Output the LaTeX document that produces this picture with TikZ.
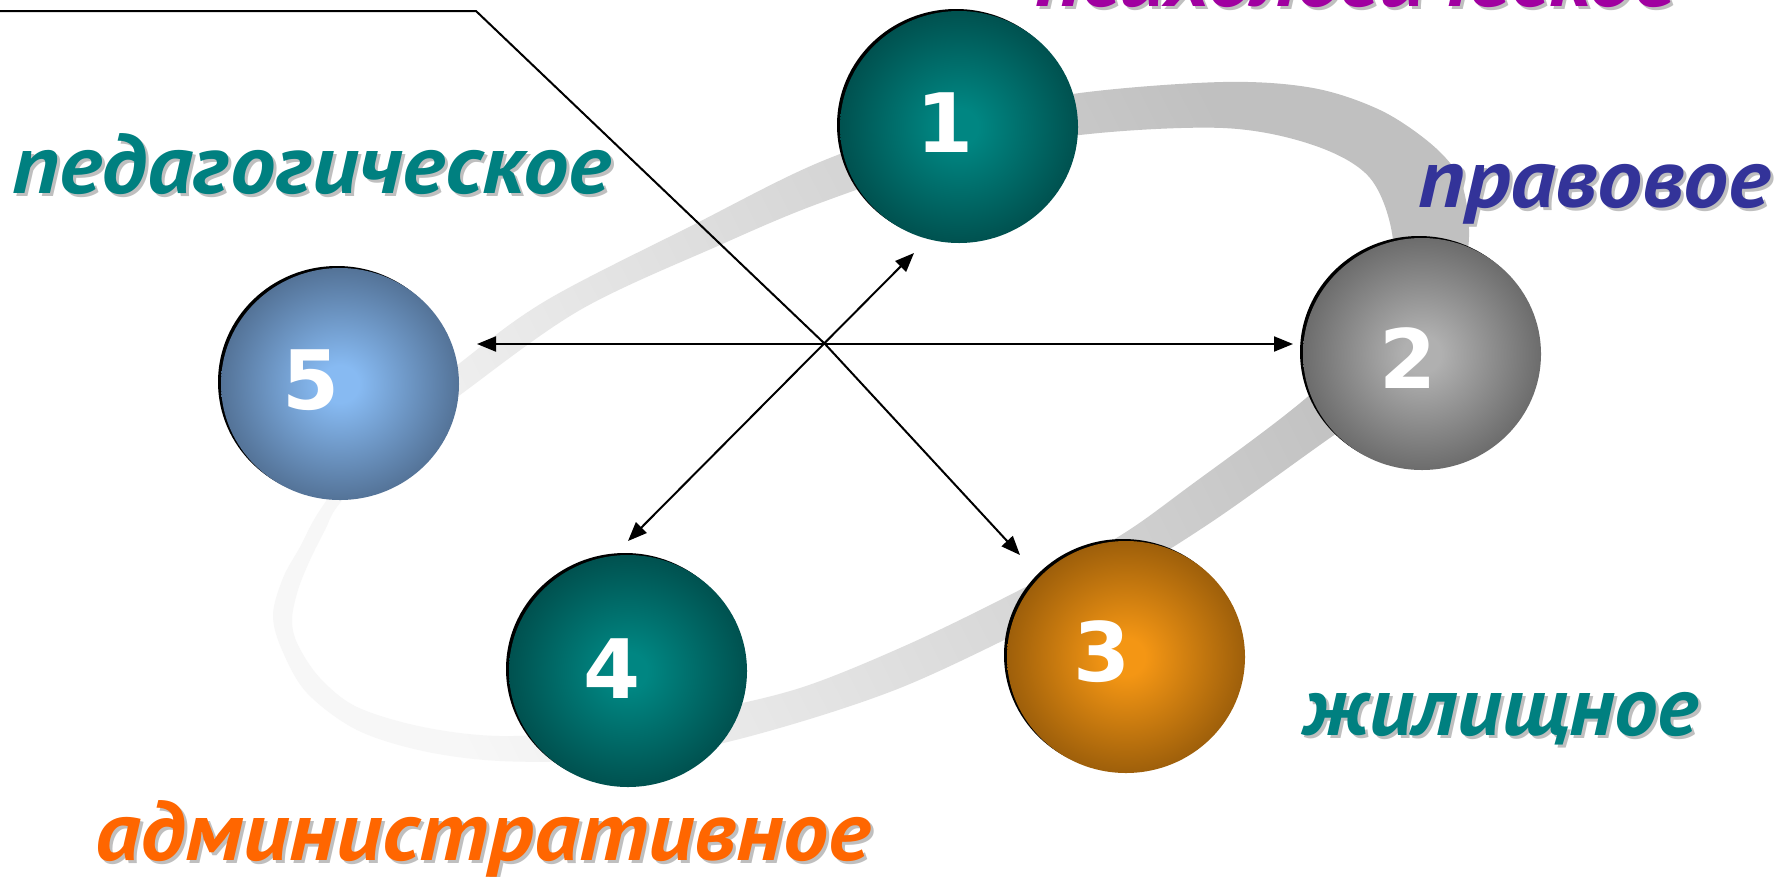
\documentclass[tikz,border=0pt]{standalone}
\usepackage{fontspec}
\usepackage{graphicx}
\usetikzlibrary{arrows.meta,shapes.geometric}
\newfontfamily\lblfont{PT Sans}
\newfontfamily\digfont{DejaVu Sans}

\definecolor{tealin}{RGB}{0,134,130}
\definecolor{tealout}{RGB}{0,36,36}
\definecolor{grayin}{RGB}{176,176,176}
\definecolor{grayout}{RGB}{50,50,50}
\definecolor{bluein}{RGB}{135,186,242}
\definecolor{blueout}{RGB}{40,54,74}
\definecolor{orin}{RGB}{244,150,20}
\definecolor{orout}{RGB}{84,48,2}
\definecolor{bandL}{RGB}{247,247,247}
\definecolor{bandD}{RGB}{192,192,192}
\definecolor{tealtxt}{RGB}{0,128,128}
\definecolor{indigotxt}{RGB}{51,51,153}
\definecolor{purpletxt}{RGB}{160,0,160}
\definecolor{orangetxt}{RGB}{255,102,0}

\pgfdeclareradialshading{tealball}{\pgfpoint{0bp}{0bp}}{color(0bp)=(tealin); color(4bp)=(tealin); color(43bp)=(tealout); color(50bp)=(tealout)}
\pgfdeclareradialshading{grayball}{\pgfpoint{0bp}{0bp}}{color(0bp)=(grayin); color(4bp)=(grayin); color(43bp)=(grayout); color(50bp)=(grayout)}
\pgfdeclareradialshading{blueball}{\pgfpoint{0bp}{0bp}}{color(0bp)=(bluein); color(4bp)=(bluein); color(43bp)=(blueout); color(50bp)=(blueout)}
\pgfdeclareradialshading{orball}{\pgfpoint{0bp}{0bp}}{color(0bp)=(orin); color(4bp)=(orin); color(43bp)=(orout); color(50bp)=(orout)}
\pgfdeclareverticalshading{bandsh}{100bp}{color(0bp)=(bandL); color(25bp)=(bandL); color(72bp)=(bandD); color(100bp)=(bandD)}

\tikzset{
  ballnode/.style={ellipse, minimum width=238pt, minimum height=232pt, inner sep=0pt, shade, shading=#1},
  ballshadow/.style={ellipse, minimum width=238pt, minimum height=232pt, inner sep=0pt, fill=black},
  digit/.style={text=white, font=\digfont\bfseries\fontsize{82}{82}\selectfont, inner sep=0pt},
  conn/.style={line width=2pt, draw=black},
  arr/.style={conn, -{Triangle[length=19pt,width=15pt]}},
  darr/.style={conn, {Triangle[length=19pt,width=15pt]}-{Triangle[length=19pt,width=15pt]}},
  lbltext/.style={anchor=base west, inner sep=0pt, font=\lblfont\bfseries\itshape\fontsize{84}{84}\selectfont},
}

% #1 name, #2 x,y (no parentheses), #3 width, #4 colour, #5 text
\newcommand\shlabel[5]{%
  \node[lbltext, text=black!25] (#1s) at ([xshift=3pt,yshift=-3pt]#2) {\resizebox{#3}{\height}{#5}};
  \node[lbltext, text=#4] (#1) at (#2) {\resizebox{#3}{\height}{#5}};
}

\begin{document}
\begin{tikzpicture}[x=1pt,y=-1pt]
\useasboundingbox (0,0) rectangle (1777,876);
\clip (0,0) rectangle (1777,876);
\fill[white] (0,0) rectangle (1777,876);

% ring band
\shade[shading=bandsh, shading angle=-63, even odd rule]
  plot[smooth cycle, tension=0.55] coordinates {
    (1080,93) (1223,82) (1313,88) (1380,110) (1430,143) (1458,175) (1468,215)
    (1466,260) (1440,340) (1390,400) (1337,433) (1213,521) (1110,585) (1000,642)
    (900,688) (800,722) (700,748) (600,760) (500,761) (423,751) (357,730)
    (307,693) (282,650) (273,615) (283,578) (300,547) (322,507) (380,430)
    (460,363) (547,300) (693,225) (820,162) (950,118)}
  plot[smooth cycle, tension=0.55] coordinates {
    (1080,135) (1223,128) (1313,145) (1370,178) (1393,240) (1385,310) (1313,392)
    (1187,488) (1113,540) (1000,600) (900,648) (800,688) (700,712) (600,730)
    (500,736) (423,727) (357,707) (320,678) (298,645) (292,620) (298,590)
    (310,560) (325,530) (340,503) (395,445) (460,395) (580,310) (720,245)
    (820,203) (950,160)};

% connectors
\coordinate (p0) at (0,11);
\coordinate (p1) at (476,11);
\coordinate (X) at (825,344);
\coordinate (p3) at (1020,555);
\coordinate (hL) at (477,344);
\coordinate (hR) at (1293,344);
\coordinate (dT) at (914,253);
\coordinate (dB) at (628,541);
\draw[arr] (p0) -- (p1) -- (X) -- (p3);
\draw[darr] (hL) -- (hR);
\draw[darr] (dB) -- (dT);

% balls
\node[ballshadow] (s1) at (956,125) {};
\node[ballnode=tealball] (b1) at (959,127) {};
\node[ballshadow] (s2) at (1419,352) {};
\node[ballnode=grayball] (b2) at (1422,354) {};
\node[ballshadow] (s3) at (1123,655) {};
\node[ballnode=orball] (b3) at (1126,657) {};
\node[ballshadow] (s4) at (625,669) {};
\node[ballnode=tealball] (b4) at (628,671) {};
\node[ballshadow] (s5) at (337,382) {};
\node[ballnode=blueball] (b5) at (340,384) {};

\node[digit] (t1) at (945,123) {1};
\node[digit] (t2) at (1408,358) {2};
\node[digit] (t3) at (1102,652) {3};
\node[digit] (t4) at (612,669) {4};
\node[digit] (t5) at (311,380) {5};

% labels
\shlabel{lpsy}{1035,6}{641pt}{purpletxt}{психологическое}
\shlabel{lped}{12,193}{598pt}{tealtxt}{педагогическое}
\shlabel{lpra}{1418,207}{352pt}{indigotxt}{правовое}
\shlabel{lzhi}{1303,735}{395pt}{tealtxt}{жилищное}
\shlabel{ladm}{95,860}{775pt}{orangetxt}{административное}
\end{tikzpicture}
\end{document}
